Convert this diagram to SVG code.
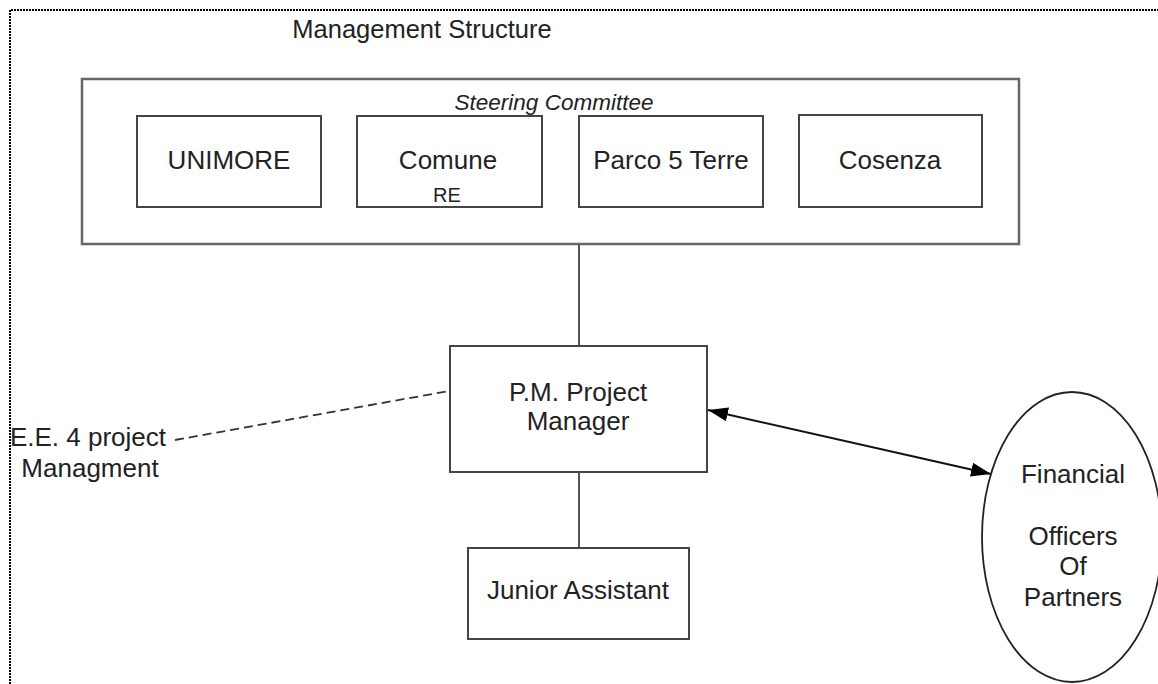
<svg xmlns="http://www.w3.org/2000/svg" width="1158" height="684" viewBox="0 0 1158 684">
<style>
text{font-family:"Liberation Sans",Arial,sans-serif;fill:#222;}
.t{font-size:26px;text-anchor:middle;}
.box{fill:#fff;stroke:#444;stroke-width:2;}
.outer{fill:#fff;stroke:#666;stroke-width:2.5;}
.conn{stroke:#555;stroke-width:2;fill:none;}
</style>
<defs>
<marker id="ah" viewBox="0 0 20 14" refX="20" refY="7" markerWidth="20" markerHeight="14" markerUnits="userSpaceOnUse" orient="auto-start-reverse">
<path d="M0,0 L20,7 L0,14 Z" fill="#000"/>
</marker>
</defs>
<rect width="1158" height="684" fill="#fff"/>
<path d="M10,684 V10 H1158" fill="none" stroke="#000" stroke-width="2" stroke-dasharray="2,1"/>
<text x="422" y="38" font-size="25.5" text-anchor="middle">Management Structure</text>
<g id="steering">
<rect class="outer" x="82" y="79" width="937" height="165"/>
<text x="554" y="110" font-size="22.5" font-style="italic" text-anchor="middle" fill="#000">Steering Committee</text>
</g>
<g id="unimore"><rect class="box" x="137" y="116" width="184" height="91"/><text class="t" x="229" y="169">UNIMORE</text></g>
<g id="comune"><rect class="box" x="357" y="116" width="185" height="91"/><text class="t" x="448" y="169">Comune</text><text x="447" y="202" font-size="20" text-anchor="middle" fill="#000">RE</text></g>
<g id="parco"><rect class="box" x="579" y="116" width="184" height="91"/><text class="t" x="671" y="169">Parco 5 Terre</text></g>
<g id="cosenza"><rect class="box" x="799" y="115" width="183" height="92"/><text class="t" x="890" y="169">Cosenza</text></g>
<g id="connectors">
<line class="conn" x1="579" y1="244" x2="579" y2="346"/>
<line class="conn" x1="579" y1="472" x2="579" y2="548"/>
<line x1="175" y1="440" x2="449" y2="391" stroke="#333" stroke-width="1.8" stroke-dasharray="9,5"/>
<line x1="708" y1="410" x2="991" y2="474" stroke="#111" stroke-width="2" marker-start="url(#ah)" marker-end="url(#ah)"/>
</g>
<g id="pm"><rect class="box" x="450" y="346" width="257" height="126"/><text class="t" x="578" y="401">P.M. Project</text><text class="t" x="578" y="430">Manager</text></g>
<g id="junior"><rect class="box" x="468" y="548" width="221" height="91"/><text class="t" x="578" y="599">Junior Assistant</text></g>
<g id="ee"><text class="t" x="88" y="446">E.E. 4 project</text><text class="t" x="90" y="477">Managment</text></g>
<g id="financial"><ellipse cx="1072" cy="537" rx="90" ry="145" fill="#fff" stroke="#222" stroke-width="1.8"/>
<text class="t" x="1073" y="483">Financial</text><text class="t" x="1073" y="545">Officers</text><text class="t" x="1073" y="575">Of</text><text class="t" x="1073" y="606">Partners</text></g>
</svg>
